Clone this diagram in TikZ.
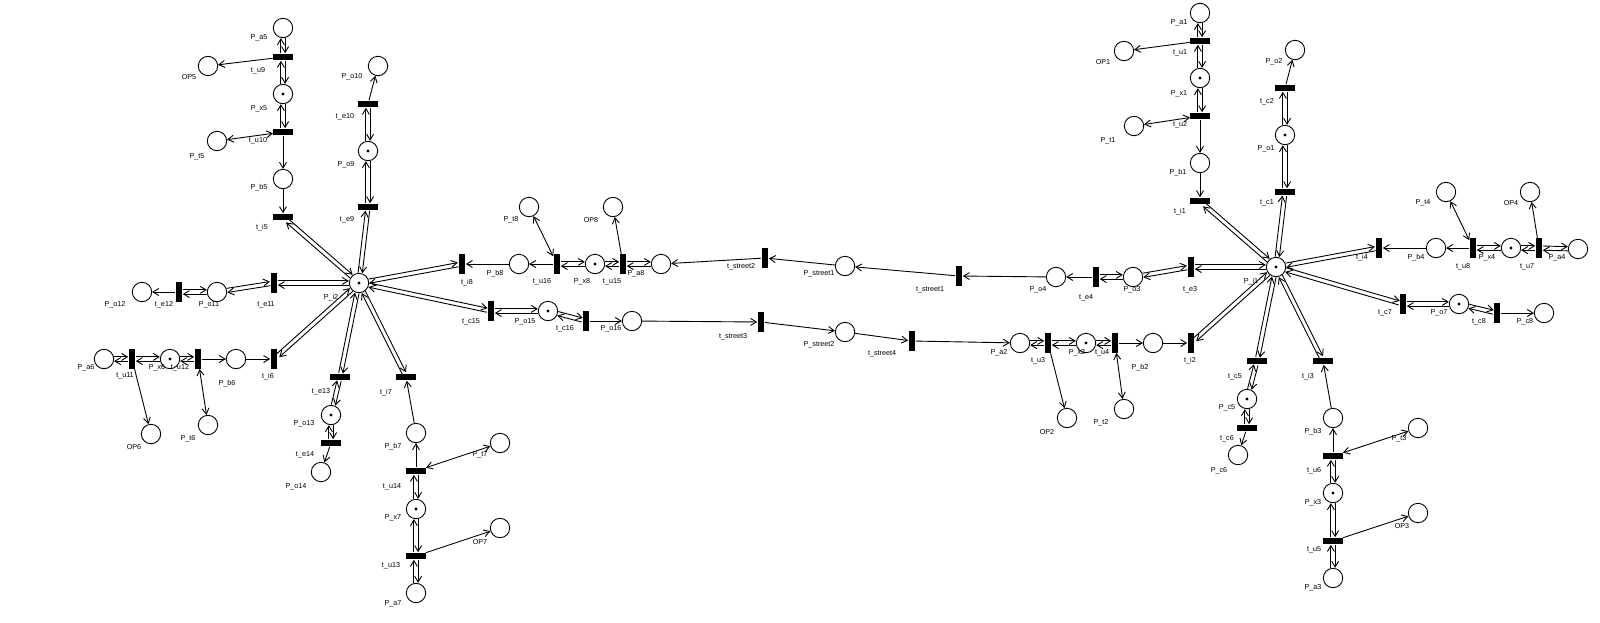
\documentclass[tikz,border=0pt]{standalone}
\usepackage{fontspec}
\setmainfont{Liberation Sans}
\usetikzlibrary{arrows.meta}
\newcommand\dgap{1.05pt}
\newcommand\darc[2]{%
  \pgfmathanglebetweenpoints{\pgfpointanchor{#1}{center}}{\pgfpointanchor{#2}{center}}%
  \edef\arcang{\pgfmathresult}%
  \draw[pnarc,transform canvas={shift={({\arcang+90}:\dgap)}}] (#1) -- (#2);%
  \draw[pnarc,transform canvas={shift={({\arcang-90}:\dgap)}}] (#2) -- (#1);%
}
\tikzset{
  pnplace/.style={circle,draw,line width=0.45pt,minimum size=9.7pt,inner sep=0pt},
  pntok/.style={pnplace,path picture={\fill (path picture bounding box.center) circle (0.8pt);}},
  pnv/.style={rectangle,fill=black,inner sep=0pt,minimum width=3.4pt,minimum height=9.6pt},
  pnh/.style={rectangle,fill=black,inner sep=0pt,minimum width=9.6pt,minimum height=3.4pt},
  pnlab/.style={inner sep=0pt,font=\fontsize{3.6pt}{4pt}\selectfont},
  pnarc/.style={line width=0.45pt,-{Straight Barb[length=2.9pt,width=3.5pt]}},
  pnbi/.style={line width=0.45pt,{Straight Barb[length=2.9pt,width=3.5pt]}-{Straight Barb[length=2.9pt,width=3.5pt]}},
}
\begin{document}
\begin{tikzpicture}[x=0.5pt,y=-0.5pt]
\fill[white] (0,0) rectangle (1600,622);
\useasboundingbox (0,0) rectangle (1600,622);
% ---------------- left cluster ----------------
\node[pnplace] (Pa5) at (283,28) {};
\node[pnh] (tu9) at (283,57) {};
\node[pnplace] (OP5) at (208,66) {};
\node[pntok] (Px5) at (283,94) {};
\node[pnh] (tu10) at (283,132) {};
\node[pnplace] (Pt5) at (217,141) {};
\node[pnplace] (Pb5) at (283,179) {};
\node[pnh] (ti5) at (283,217) {};
\node[pnplace] (Po10) at (378,66) {};
\node[pnh] (te10) at (368,104) {};
\node[pntok] (Po9) at (368,151) {};
\node[pnh] (te9) at (368,207) {};
\node[pntok] (Pi2) at (359,283) {};
\node[pnv] (te11) at (274,283) {};
\node[pnplace] (Po11) at (217,292) {};
\node[pnv] (te12) at (179,292) {};
\node[pnplace] (Po12) at (142,292) {};
\node[pnplace] (Pa6) at (104,359) {};
\node[pnv] (tu11) at (132,359) {};
\node[pntok] (Px6) at (170,359) {};
\node[pnv] (tu12) at (198,359) {};
\node[pnplace] (Pb6) at (236,359) {};
\node[pnv] (ti6) at (274,359) {};
\node[pnplace] (OP6) at (151,434) {};
\node[pnplace] (Pt6) at (208,425) {};
\node[pnh] (te13) at (340,377) {};
\node[pntok] (Po13) at (331,415) {};
\node[pnh] (te14) at (331,443) {};
\node[pnplace] (Po14) at (321,472) {};
\node[pnh] (ti7) at (406,377) {};
\node[pnplace] (Pb7) at (416,433) {};
\node[pnh] (tu14) at (416,471) {};
\node[pnplace] (Pt7) at (500,443) {};
\node[pntok] (Px7) at (416,509) {};
\node[pnh] (tu13) at (416,556) {};
\node[pnplace] (OP7) at (500,528) {};
\node[pnplace] (Pa7) at (416,593) {};
\node[pnv] (ti8) at (462,264) {};
\node[pnplace] (Pb8) at (519,264) {};
\node[pnv] (tu16) at (557,264) {};
\node[pnplace] (Pt8) at (529,207) {};
\node[pntok] (Px8) at (595,264) {};
\node[pnv] (tu15) at (623,264) {};
\node[pnplace] (OP8) at (613,207) {};
\node[pnplace] (Pa8) at (661,264) {};
\node[pnv] (tst2) at (765,258) {};
\node[pnv] (tc15) at (491,311) {};
\node[pntok] (Po15) at (548,311) {};
\node[pnv] (tc16) at (586,321) {};
\node[pnplace] (Po16) at (632,321) {};
\node[pnv] (tst3) at (761,322) {};
% ---------------- middle / right ----------------
\node[pnplace] (Pst1) at (845,266) {};
\node[pnv] (tst1) at (959,276) {};
\node[pnplace] (Po4) at (1056,277) {};
\node[pnv] (te4) at (1096,277) {};
\node[pnplace] (Po3) at (1133,277) {};
\node[pnv] (te3) at (1191,267) {};
\node[pnplace] (Pst2) at (845,332) {};
\node[pnv] (tst4) at (912,341) {};
\node[pnplace] (Pa2) at (1020,343) {};
\node[pnv] (tu3) at (1048,343) {};
\node[pntok] (Px2) at (1086,343) {};
\node[pnv] (tu4) at (1115,343) {};
\node[pnplace] (Pb2) at (1153,343) {};
\node[pnv] (ti2) at (1191,343) {};
\node[pnplace] (OP2) at (1067,418) {};
\node[pnplace] (Pt2) at (1124,409) {};
\node[pnplace] (Pa1) at (1200,13) {};
\node[pnh] (tu1) at (1200,41) {};
\node[pnplace] (OP1) at (1124,51) {};
\node[pntok] (Px1) at (1200,78) {};
\node[pnh] (tu2) at (1200,116) {};
\node[pnplace] (Pt1) at (1134,126) {};
\node[pnplace] (Pb1) at (1200,163) {};
\node[pnh] (ti1) at (1200,201) {};
\node[pnplace] (Po2) at (1295,50) {};
\node[pnh] (tc2) at (1285,88) {};
\node[pntok] (Po1) at (1285,135) {};
\node[pnh] (tc1) at (1285,192) {};
\node[pntok] (Pi1) at (1276,267) {};
\node[pnv] (ti4) at (1379,248) {};
\node[pnplace] (Pb4) at (1436,248) {};
\node[pnv] (tu8) at (1473,248) {};
\node[pnplace] (Pt4) at (1446,192) {};
\node[pntok] (Px4) at (1511,248) {};
\node[pnv] (tu7) at (1539,248) {};
\node[pnplace] (OP4) at (1530,192) {};
\node[pnplace] (Pa4) at (1578,249) {};
\node[pnv] (tc7) at (1403,304) {};
\node[pntok] (Po7) at (1459,304) {};
\node[pnv] (tc8) at (1497,313) {};
\node[pnplace] (Pc8) at (1544,313) {};
\node[pnh] (tc5) at (1257,361) {};
\node[pnh] (ti3) at (1323,361) {};
\node[pntok] (Pc5) at (1247,399) {};
\node[pnh] (tc6) at (1247,428) {};
\node[pnplace] (Pc6) at (1238,455) {};
\node[pnplace] (Pb3) at (1333,418) {};
\node[pnplace] (Pt3) at (1418,428) {};
\node[pnh] (tu6) at (1333,456) {};
\node[pntok] (Px3) at (1333,493) {};
\node[pnh] (tu5) at (1333,541) {};
\node[pnplace] (OP3) at (1418,513) {};
\node[pnplace] (Pa3) at (1333,578) {};
% ---------------- labels ----------------
\node[pnlab] (lPa5) at (259,38) {P\_a5};
\node[pnlab] (ltu9) at (258,71) {t\_u9};
\node[pnlab] (lOP5) at (189,77) {OP5};
\node[pnlab] (lPx5) at (259,109) {P\_x5};
\node[pnlab] (ltu10) at (258,141) {t\_u10};
\node[pnlab] (lPt5) at (197,157) {P\_t5};
\node[pnlab] (lPb5) at (259,188) {P\_b5};
\node[pnlab] (lti5) at (262,228) {t\_i5};
\node[pnlab] (lPo10) at (352,77) {P\_o10};
\node[pnlab] (lte10) at (345,117) {t\_e10};
\node[pnlab] (lPo9) at (346,165) {P\_o9};
\node[pnlab] (lte9) at (347,220) {t\_e9};
\node[pnlab] (lPi2) at (331,298) {P\_i2};
\node[pnlab] (lte11) at (266,305) {t\_e11};
\node[pnlab] (lPo11) at (209,305) {P\_o11};
\node[pnlab] (lte12) at (164,305) {t\_e12};
\node[pnlab] (lPo12) at (115,305) {P\_o12};
\node[pnlab] (lPa6) at (86,368) {P\_a6};
\node[pnlab] (ltu11) at (125,376) {t\_u11};
\node[pnlab] (lPx6) at (157,368) {P\_x6};
\node[pnlab] (ltu12) at (180,368) {t\_u12};
\node[pnlab] (lPb6) at (227,384) {P\_b6};
\node[pnlab] (lti6) at (268,377) {t\_i6};
\node[pnlab] (lOP6) at (134,447) {OP6};
\node[pnlab] (lPt6) at (188,439) {P\_t6};
\node[pnlab] (lte13) at (321,392) {t\_e13};
\node[pnlab] (lPo13) at (304,424) {P\_o13};
\node[pnlab] (lte14) at (305,455) {t\_e14};
\node[pnlab] (lPo14) at (296,487) {P\_o14};
\node[pnlab] (lti7) at (386,393) {t\_i7};
\node[pnlab] (lPb7) at (393,447) {P\_b7};
\node[pnlab] (ltu14) at (392,487) {t\_u14};
\node[pnlab] (lPt7) at (480,455) {P\_t7};
\node[pnlab] (lPx7) at (393,518) {P\_x7};
\node[pnlab] (ltu13) at (391,566) {t\_u13};
\node[pnlab] (lOP7) at (480,542) {OP7};
\node[pnlab] (lPa7) at (393,604) {P\_a7};
\node[pnlab] (lti8) at (467,283) {t\_i8};
\node[pnlab] (lPb8) at (495,274) {P\_b8};
\node[pnlab] (ltu16) at (542,282) {t\_u16};
\node[pnlab] (lPt8) at (511,220) {P\_t8};
\node[pnlab] (lPx8) at (582,282) {P\_x8};
\node[pnlab] (ltu15) at (612,282) {t\_u15};
\node[pnlab] (lOP8) at (591,220) {OP8};
\node[pnlab] (lPa8) at (636,274) {P\_a8};
\node[pnlab] (ltst2) at (741,267) {t\_street2};
\node[pnlab] (ltc15) at (471,322) {t\_c15};
\node[pnlab] (lPo15) at (525,322) {P\_o15};
\node[pnlab] (ltc16) at (565,329) {t\_c16};
\node[pnlab] (lPo16) at (611,329) {P\_o16};
\node[pnlab] (ltst3) at (733,337) {t\_street3};
\node[pnlab] (lPst1) at (819,274) {P\_street1};
\node[pnlab] (ltst1) at (930,290) {t\_street1};
\node[pnlab] (lPo4) at (1038,290) {P\_o4};
\node[pnlab] (lte4) at (1086,298) {t\_e4};
\node[pnlab] (lPo3) at (1132,290) {P\_o3};
\node[pnlab] (lte3) at (1190,290) {t\_e3};
\node[pnlab] (lPst2) at (819,345) {P\_street2};
\node[pnlab] (ltst4) at (882,354) {t\_street4};
\node[pnlab] (lPa2) at (999,353) {P\_a2};
\node[pnlab] (ltu3) at (1038,361) {t\_u3};
\node[pnlab] (lPx2) at (1077,353) {P\_x2};
\node[pnlab] (ltu4) at (1102,353) {t\_u4};
\node[pnlab] (lPb2) at (1140,368) {P\_b2};
\node[pnlab] (lti2) at (1190,361) {t\_i2};
\node[pnlab] (lOP2) at (1047,432) {OP2};
\node[pnlab] (lPt2) at (1101,423) {P\_t2};
\node[pnlab] (lPa1) at (1179,23) {P\_a1};
\node[pnlab] (ltu1) at (1180,53) {t\_u1};
\node[pnlab] (lOP1) at (1103,62) {OP1};
\node[pnlab] (lPx1) at (1179,94) {P\_x1};
\node[pnlab] (ltu2) at (1180,125) {t\_u2};
\node[pnlab] (lPt1) at (1108,141) {P\_t1};
\node[pnlab] (lPb1) at (1178,173) {P\_b1};
\node[pnlab] (lti1) at (1180,212) {t\_i1};
\node[pnlab] (lPo2) at (1274,62) {P\_o2};
\node[pnlab] (ltc2) at (1267,102) {t\_c2};
\node[pnlab] (lPo1) at (1266,149) {P\_o1};
\node[pnlab] (ltc1) at (1267,203) {t\_c1};
\node[pnlab] (lPi1) at (1251,282) {P\_i1};
\node[pnlab] (lti4) at (1362,258) {t\_i4};
\node[pnlab] (lPb4) at (1416,258) {P\_b4};
\node[pnlab] (ltu8) at (1463,267) {t\_u8};
\node[pnlab] (lPt4) at (1423,203) {P\_t4};
\node[pnlab] (lPx4) at (1487,258) {P\_x4};
\node[pnlab] (ltu7) at (1527,267) {t\_u7};
\node[pnlab] (lOP4) at (1511,203) {OP4};
\node[pnlab] (lPa4) at (1557,258) {P\_a4};
\node[pnlab] (ltc7) at (1385,313) {t\_c7};
\node[pnlab] (lPo7) at (1439,313) {P\_o7};
\node[pnlab] (ltc8) at (1479,322) {t\_c8};
\node[pnlab] (lPc8) at (1525,322) {P\_c8};
\node[pnlab] (ltc5) at (1235,377) {t\_c5};
\node[pnlab] (lti3) at (1308,377) {t\_i3};
\node[pnlab] (lPc5) at (1227,408) {P\_c5};
\node[pnlab] (ltc6) at (1227,439) {t\_c6};
\node[pnlab] (lPc6) at (1219,471) {P\_c6};
\node[pnlab] (lPb3) at (1313,432) {P\_b3};
\node[pnlab] (lPt3) at (1399,439) {P\_t3};
\node[pnlab] (ltu6) at (1314,471) {t\_u6};
\node[pnlab] (lPx3) at (1313,503) {P\_x3};
\node[pnlab] (ltu5) at (1314,550) {t\_u5};
\node[pnlab] (lOP3) at (1402,526) {OP3};
\node[pnlab] (lPa3) at (1313,588) {P\_a3};
% ---------------- double arcs ----------------
\darc{Pa5}{tu9} \darc{tu9}{Px5} \darc{Px5}{tu10} \darc{ti5}{Pi2}
\darc{Pi2}{te9} \darc{te9}{Po9} \darc{Po9}{te10}
\darc{Pi2}{te11} \darc{te11}{Po11} \darc{Po11}{te12}
\darc{Pi2}{ti6} \darc{Pa6}{tu11} \darc{tu11}{Px6} \darc{Px6}{tu12}
\darc{Pi2}{te13} \darc{te13}{Po13} \darc{Po13}{te14}
\darc{Pi2}{ti7} \darc{tu14}{Px7} \darc{Px7}{tu13} \darc{tu13}{Pa7}
\darc{Pi2}{ti8} \darc{tu16}{Px8} \darc{Px8}{tu15} \darc{tu15}{Pa8}
\darc{Pi2}{tc15} \darc{tc15}{Po15} \darc{Po15}{tc16}
\darc{Pa1}{tu1} \darc{tu1}{Px1} \darc{Px1}{tu2} \darc{ti1}{Pi1}
\darc{Pi1}{tc1} \darc{tc1}{Po1} \darc{Po1}{tc2}
\darc{Pi1}{te3} \darc{te3}{Po3} \darc{Po3}{te4}
\darc{Pi1}{ti2} \darc{Pa2}{tu3} \darc{tu3}{Px2} \darc{Px2}{tu4}
\darc{Pi1}{tc5} \darc{tc5}{Pc5} \darc{Pc5}{tc6}
\darc{Pi1}{ti3} \darc{tu6}{Px3} \darc{Px3}{tu5} \darc{tu5}{Pa3}
\darc{Pi1}{ti4} \darc{tu8}{Px4} \darc{Px4}{tu7} \darc{tu7}{Pa4}
\darc{Pi1}{tc7} \darc{tc7}{Po7} \darc{Po7}{tc8}
% ---------------- single arcs ----------------
\draw[pnarc] (tu9) -- (OP5);
\draw[pnarc] (tu10) -- (Pb5);
\draw[pnarc] (Pb5) -- (ti5);
\draw[pnarc] (te10) -- (Po10);
\draw[pnarc] (te12) -- (Po12);
\draw[pnarc] (tu11) -- (OP6);
\draw[pnarc] (tu12) -- (Pb6);
\draw[pnarc] (Pb6) -- (ti6);
\draw[pnarc] (te14) -- (Po14);
\draw[pnarc] (tu14) -- (Pb7);
\draw[pnarc] (Pb7) -- (ti7);
\draw[pnarc] (tu13) -- (OP7);
\draw[pnarc] (tu16) -- (Pb8);
\draw[pnarc] (Pb8) -- (ti8);
\draw[pnarc] (tu15) -- (OP8);
\draw[pnarc] (tst2) -- (Pa8);
\draw[pnarc] (tc16) -- (Po16);
\draw[pnarc] (Po16) -- (tst3);
\draw[pnarc] (tst3) -- (Pst2);
\draw[pnarc] (Pst2) -- (tst4);
\draw[pnarc] (tst4) -- (Pa2);
\draw[pnarc] (Pst1) -- (tst2);
\draw[pnarc] (tst1) -- (Pst1);
\draw[pnarc] (Po4) -- (tst1);
\draw[pnarc] (te4) -- (Po4);
\draw[pnarc] (tu3) -- (OP2);
\draw[pnarc] (tu4) -- (Pb2);
\draw[pnarc] (Pb2) -- (ti2);
\draw[pnarc] (tu1) -- (OP1);
\draw[pnarc] (tu2) -- (Pb1);
\draw[pnarc] (Pb1) -- (ti1);
\draw[pnarc] (tc2) -- (Po2);
\draw[pnarc] (tu8) -- (Pb4);
\draw[pnarc] (Pb4) -- (ti4);
\draw[pnarc] (tu7) -- (OP4);
\draw[pnarc] (tc8) -- (Pc8);
\draw[pnarc] (tc6) -- (Pc6);
\draw[pnarc] (tu6) -- (Pb3);
\draw[pnarc] (Pb3) -- (ti3);
\draw[pnarc] (tu5) -- (OP3);
% ---------------- two-headed arcs ----------------
\draw[pnbi] (tu10) -- (Pt5);
\draw[pnbi] (tu12) -- (Pt6);
\draw[pnbi] (tu14) -- (Pt7);
\draw[pnbi] (tu16) -- (Pt8);
\draw[pnbi] (tu2) -- (Pt1);
\draw[pnbi] (tu4) -- (Pt2);
\draw[pnbi] (tu6) -- (Pt3);
\draw[pnbi] (tu8) -- (Pt4);
\end{tikzpicture}
\end{document}
